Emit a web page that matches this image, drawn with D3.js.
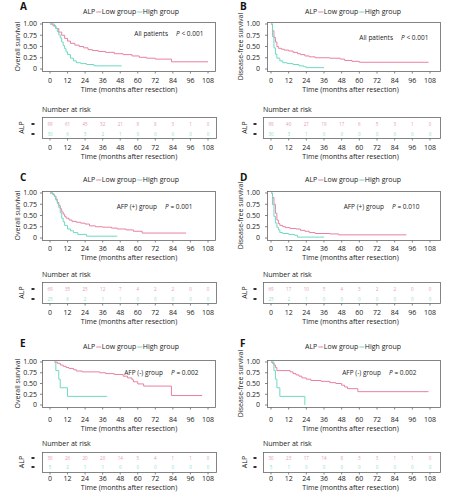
<!DOCTYPE html>
<html><head><meta charset="utf-8">
<script src="https://cdn.jsdelivr.net/npm/d3@7"></script>
<style>body{margin:0;background:#fff}svg{display:block}text{font-family:"Open Sans",sans-serif}</style>
</head><body>
<script>
// ---------- DATA ----------
const monthTicks = [0,12,24,36,48,60,72,84,96,108];
const yTicks = [0,0.25,0.5,0.75,1];
const yTickLabels = ["0","0.25","0.50","0.75","1.00"];
const panelLetters = ["A","B","C","D","E","F"];
const yTitles = ["Overall survival","Disease-free survival","Overall survival","Disease-free survival","Overall survival","Disease-free survival"];
const groupTexts = ["All patients","All patients","AFP (+) group","AFP (+) group","AFP (-) group","AFP (-) group"];
const pTexts = ["< 0.001","< 0.001","= 0.001","= 0.010","= 0.002","= 0.002"];
const legendTitle = "ALP";
const seriesNames = ["Low group","High group"];
const xTitle = "Time (months after resection)";
const riskTitle = "Number at risk";

// Kaplan-Meier step points: times (months) and survival
const lowA_t  = [0,2,4,6,8,10,12,14,17,20,23,26,29,33,38,44,50,56,61,66,72,83,108];
const lowA_s  = [1,0.96,0.9,0.82,0.75,0.68,0.62,0.57,0.53,0.5,0.47,0.43,0.41,0.39,0.37,0.34,0.32,0.29,0.26,0.24,0.22,0.16,0.16];
const highA_t = [0,3,4,5,6,7,8,9,10,11,12,14,16,18,21,25,30,49];
const highA_s = [1,0.95,0.9,0.83,0.76,0.69,0.6,0.52,0.45,0.38,0.32,0.24,0.18,0.14,0.12,0.1,0.07,0.07];

const lowB_t  = [0,1,2,3,4,5,7,9,12,15,18,20,23,26,30,40,47,50,55,60,107];
const lowB_s  = [1,0.85,0.7,0.6,0.5,0.46,0.44,0.42,0.4,0.37,0.34,0.32,0.29,0.27,0.25,0.24,0.22,0.19,0.17,0.15,0.15];
const highB_t = [0,1,2,3,4,6,8,11,15,19,22,24,36];
const highB_s = [1,0.72,0.47,0.33,0.24,0.18,0.14,0.12,0.1,0.07,0.05,0.03,0.03];

const lowC_t  = [0,2,3,4,5,6,7,8,9,10,11,13,15,18,21,24,27,31,36,42,46,52,57,63,93];
const lowC_s  = [1,0.97,0.93,0.86,0.79,0.72,0.65,0.58,0.53,0.48,0.44,0.4,0.37,0.35,0.33,0.31,0.27,0.25,0.24,0.22,0.2,0.18,0.15,0.11,0.11];
const highC_t = [0,2,3,4,5,6,7,8,9,10,12,14,16,19,25,46];
const highC_s = [1,0.96,0.92,0.84,0.76,0.68,0.56,0.44,0.36,0.28,0.2,0.16,0.12,0.08,0.04,0.04];

const lowD_t  = [0,1,2,3,4,5,6,8,10,13,17,20,23,26,30,40,46,92];
const lowD_s  = [1,0.9,0.75,0.55,0.4,0.32,0.28,0.25,0.23,0.21,0.2,0.17,0.15,0.12,0.1,0.09,0.07,0.07];
const highD_t = [0,1,2,3,4,5,6,8,12,16,18,36];
const highD_s = [1,0.74,0.48,0.33,0.24,0.18,0.12,0.1,0.08,0.06,0.02,0.02];

const lowE_t  = [3,5,7,9,11,13,16,18,22,34,38,44,50,53,56,57,60,64,83,104];
const lowE_s  = [1,0.97,0.93,0.9,0.87,0.85,0.82,0.79,0.77,0.75,0.73,0.71,0.67,0.63,0.59,0.54,0.49,0.44,0.22,0.22];
const highE_t = [3,4,6,7,12,39];
const highE_s = [1,0.8,0.6,0.4,0.2,0.2];

const lowF_t  = [0,1,2,3,4,13,15,17,19,21,24,27,34,40,44,48,50,52,59,107];
const lowF_s  = [1,0.97,0.93,0.87,0.8,0.77,0.73,0.7,0.67,0.63,0.6,0.57,0.55,0.52,0.5,0.46,0.42,0.38,0.31,0.31];
const highF_t = [0,2,3,4,6,23];
const highF_s = [1,0.8,0.6,0.4,0.2,0];

// Numbers at risk at each month tick
const riskLowA  = [99,61,45,32,21,9,8,3,1,0];
const riskHighA = [30,6,3,2,1,0,0,0,0,0];
const riskLowB  = [99,40,27,19,17,6,5,3,1,0];
const riskHighB = [30,3,1,0,0,0,0,0,0,0];
const riskLowC  = [69,35,25,12,7,4,2,2,0,0];
const riskHighC = [25,6,2,1,1,0,0,0,0,0];
const riskLowD  = [69,17,10,5,4,3,2,2,0,0];
const riskHighD = [25,2,1,0,0,0,0,0,0,0];
const riskLowE  = [30,26,20,20,14,5,4,1,1,0];
const riskHighE = [5,2,1,1,0,0,0,0,0,0];
const riskLowF  = [30,23,17,14,8,3,3,1,1,0];
const riskHighF = [5,1,0,0,0,0,0,0,0,0];

const curves = [
  [[lowA_t,lowA_s],[highA_t,highA_s]],
  [[lowB_t,lowB_s],[highB_t,highB_s]],
  [[lowC_t,lowC_s],[highC_t,highC_s]],
  [[lowD_t,lowD_s],[highD_t,highD_s]],
  [[lowE_t,lowE_s],[highE_t,highE_s]],
  [[lowF_t,lowF_s],[highF_t,highF_s]]
];
const risks = [
  [riskLowA,riskHighA],[riskLowB,riskHighB],[riskLowC,riskHighC],
  [riskLowD,riskHighD],[riskLowE,riskHighE],[riskLowF,riskHighF]
];

// ---------- STYLE / LAYOUT ----------
const colors = ["#e8819f","#6fd9c3"];
const riskColors = ["#eb98b0","#86dfcc"];
const axisCol = "#666";
const W = 454, H = 497;

const cols = [
  {boxL:42, boxR:215, x0:50, x1:208, yTitleX:18, tickX:37, letterX:20, legendX:83, riskL:42, riskR:216, alpX:22, markX:33},
  {boxL:267, boxR:440, x0:271, x1:430, yTitleX:241, tickX:260, letterX:240, legendX:305, riskL:263, riskR:440, alpX:245, markX:255}
];
const rows = [
  {yTop:24, yBot:69, legendY:12, letterY:10, tickY:81, xTitleY:90, riskTitleY:110, riskTop:117, riskBot:138, r1:124, r2:134, rTickY:148, rTitleY:157},
  {yTop:193, yBot:238, legendY:180, letterY:181, tickY:249, xTitleY:258, riskTitleY:275, riskTop:282, riskBot:303, r1:289, r2:299, rTickY:313, rTitleY:322},
  {yTop:362, yBot:405, legendY:347, letterY:347, tickY:420, xTitleY:429, riskTitleY:444, riskTop:452, riskBot:472, r1:458, r2:467, rTickY:479, rTitleY:488}
];
const annot = [
  {x2:176, y:34},{x2:401, y:38},
  {x2:165, y:207},{x2:392, y:207},
  {x2:171, y:373},{x2:389, y:373}
];

const svg = d3.select("body").append("svg").attr("width",W).attr("height",H);

for (let i=0;i<6;i++){
  const c = cols[i%2], r = rows[Math.floor(i/2)];
  const g = svg.append("g");
  const x = d3.scaleLinear().domain([0,108]).range([c.x0,c.x1]);
  const y = d3.scaleLinear().domain([0,1]).range([r.yBot,r.yTop]);

  // panel letter
  g.append("text").attr("x",c.letterX).attr("y",r.letterY).attr("font-size",10).attr("font-weight","bold").attr("fill","#111").text(panelLetters[i]);

  // legend
  const lg = g.append("g").attr("transform",`translate(${c.legendX},${r.legendY})`).attr("font-size",7).attr("fill","#222");
  let lx = 0;
  const t0 = lg.append("text").attr("x",lx).attr("dy","0.35em").text(legendTitle);
  lx += t0.node().getComputedTextLength()+1;
  seriesNames.forEach((nm,k)=>{
    lg.append("line").attr("x1",lx).attr("x2",lx+5).attr("y1",0).attr("y2",0).attr("stroke",colors[k]).attr("stroke-width",1);
    lx += 5.5;
    const t = lg.append("text").attr("x",lx).attr("dy","0.35em").text(nm);
    lx += t.node().getComputedTextLength()+1;
  });

  // plot box
  g.append("rect").attr("x",c.boxL+0.5).attr("y",r.yTop-1.5).attr("width",c.boxR-c.boxL).attr("height",r.yBot-r.yTop+4)
    .attr("fill","none").attr("stroke",axisCol).attr("stroke-width",0.8);

  // y axis ticks
  yTicks.forEach((v,k)=>{
    g.append("line").attr("x1",c.boxL-2).attr("x2",c.boxL+0.5).attr("y1",y(v)).attr("y2",y(v)).attr("stroke",axisCol).attr("stroke-width",0.8);
    g.append("text").attr("x",c.tickX).attr("y",y(v)).attr("dy","0.35em").attr("text-anchor","end").attr("font-size",7).attr("fill","#222").text(yTickLabels[k]);
  });
  // x axis ticks
  const boxBottom = r.yBot+2.5;
  monthTicks.forEach(m=>{
    g.append("line").attr("x1",x(m)).attr("x2",x(m)).attr("y1",boxBottom).attr("y2",boxBottom+2).attr("stroke",axisCol).attr("stroke-width",0.8);
    g.append("text").attr("x",x(m)).attr("y",r.tickY).attr("dy","0.35em").attr("text-anchor","middle").attr("font-size",7).attr("fill","#222").text(m);
  });
  g.append("text").attr("x",(c.x0+c.x1)/2).attr("y",r.xTitleY).attr("dy","0.35em").attr("text-anchor","middle").attr("font-size",7).attr("fill","#222").text(xTitle);

  // y title
  g.append("text").attr("transform",`translate(${c.yTitleX},${(r.yTop+r.yBot)/2}) rotate(-90)`).attr("dy","0.35em").attr("text-anchor","middle").attr("font-size",7).attr("fill","#222").text(yTitles[i]);

  // annotation: group text right-aligned before the P value
  g.append("text").attr("x",annot[i].x2-8).attr("y",annot[i].y).attr("dy","0.35em").attr("text-anchor","end").attr("font-size",6.5).attr("fill","#222").text(groupTexts[i]);
  const pt = g.append("text").attr("x",annot[i].x2).attr("y",annot[i].y).attr("dy","0.35em").attr("font-size",6.5).attr("fill","#222");
  pt.append("tspan").attr("font-style","italic").text("P");
  pt.append("tspan").text(" " + pTexts[i]);

  // curves
  const line = d3.line().x(d=>x(d[0])).y(d=>y(d[1])).curve(d3.curveStepAfter);
  curves[i].forEach((cv,k)=>{
    const pts = cv[0].map((t,j)=>[t,cv[1][j]]);
    g.append("path").attr("d",line(pts)).attr("fill","none").attr("stroke",colors[k]).attr("stroke-width",1);
  });

  // risk table
  g.append("text").attr("x",c.riskL).attr("y",r.riskTitleY).attr("dy","0.35em").attr("font-size",7).attr("fill","#222").text(riskTitle);
  g.append("rect").attr("x",c.riskL+0.5).attr("y",r.riskTop+0.5).attr("width",c.riskR-c.riskL).attr("height",r.riskBot-r.riskTop)
    .attr("fill","none").attr("stroke",axisCol).attr("stroke-width",0.8);
  g.append("text").attr("transform",`translate(${c.alpX},${(r.riskTop+r.riskBot)/2}) rotate(-90)`).attr("dy","0.35em").attr("text-anchor","middle").attr("font-size",7).attr("fill","#222").text(legendTitle);
  [r.r1,r.r2].forEach(yy=>{
    g.append("rect").attr("x",c.markX-1.5).attr("y",yy-1).attr("width",3).attr("height",2).attr("fill","#333");
  });
  risks[i].forEach((arr,k)=>{
    const yy = k===0 ? r.r1 : r.r2;
    arr.forEach((v,j)=>{
      g.append("text").attr("x",x(monthTicks[j])).attr("y",yy).attr("dy","0.35em").attr("text-anchor","middle").attr("font-size",4.5).attr("fill",riskColors[k]).text(v);
    });
  });
  monthTicks.forEach(m=>{
    g.append("line").attr("x1",x(m)).attr("x2",x(m)).attr("y1",r.riskBot+0.5).attr("y2",r.riskBot+2.5).attr("stroke",axisCol).attr("stroke-width",0.8);
    g.append("text").attr("x",x(m)).attr("y",r.rTickY).attr("dy","0.35em").attr("text-anchor","middle").attr("font-size",7).attr("fill","#222").text(m);
  });
  g.append("text").attr("x",(c.x0+c.x1)/2).attr("y",r.rTitleY).attr("dy","0.35em").attr("text-anchor","middle").attr("font-size",7).attr("fill","#222").text(xTitle);
}
</script>
</body></html>
